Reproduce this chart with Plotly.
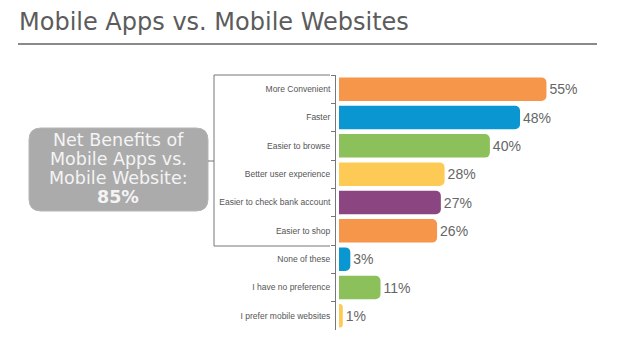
import plotly.graph_objects as go

categories = ["More Convenient", "Faster", "Easier to browse", "Better user experience",
              "Easier to check bank account", "Easier to shop", "None of these",
              "I have no preference", "I prefer mobile websites"]
values = [55, 48, 40, 28, 27, 26, 3, 11, 1]
colors = ["#F5964A", "#0A96D0", "#8BC05A", "#FDCB55", "#8B4580",
          "#F5964A", "#0A96D0", "#8BC05A", "#FDCB55"]
title_text = "Mobile Apps vs. Mobile Websites"
box_lines = ["Net Benefits of", "Mobile Apps vs.", "Mobile Website:", "<b>85%</b>"]

# page body has an 8px margin; figure is placed at (8, 8) on screen
OFF = 8
W, H = 619 - OFF, 358 - OFF
PLOT_L, PLOT_R, PLOT_T, PLOT_B = 336, 600, 75, 330   # screen coordinates
L, T = PLOT_L - OFF, PLOT_T - OFF
R, B = 619 - PLOT_R, 358 - PLOT_B
PW, PH = PLOT_R - PLOT_L, PLOT_B - PLOT_T

def px(x):
    return (x - PLOT_L) / PW

def py(y):
    return (PLOT_B - y) / PH

fig = go.Figure(go.Bar(
    x=values, y=categories, orientation="h",
    marker=dict(color=colors, cornerradius=5, line=dict(width=0)),
    text=[f"{v}%" for v in values], textposition="outside",
    textfont=dict(size=14, color="#666666", family="Liberation Sans"),
    cliponaxis=False,
))

shapes = []
# title underline
shapes.append(dict(type="line", xref="paper", yref="paper",
                   x0=px(18), x1=px(597), y0=py(44), y1=py(44),
                   line=dict(color="#8a8a8a", width=2)))
# bracket
bx, btop, bbot, bright = 214, 75, 246, 330
shapes.append(dict(type="path", xref="paper", yref="paper",
                   path=f"M {px(bright)} {py(btop)} L {px(bx)} {py(btop)} L {px(bx)} {py(bbot)} L {px(bright)} {py(bbot)}",
                   line=dict(color="#777777", width=1)))
# connector
shapes.append(dict(type="line", xref="paper", yref="paper",
                   x0=px(208), x1=px(bx), y0=py(161), y1=py(161),
                   line=dict(color="#777777", width=1)))
# rounded grey box
x0, x1, y0, y1, r = 29, 208, 128, 211, 12
rx, ry = r / PW, r / PH
X0, X1, Y0, Y1 = px(x0), px(x1), py(y0), py(y1)
path = (f"M {X0+rx} {Y0} L {X1-rx} {Y0} Q {X1} {Y0} {X1} {Y0-ry} "
        f"L {X1} {Y1+ry} Q {X1} {Y1} {X1-rx} {Y1} "
        f"L {X0+rx} {Y1} Q {X0} {Y1} {X0} {Y1+ry} "
        f"L {X0} {Y0-ry} Q {X0} {Y0} {X0+rx} {Y0} Z")
shapes.append(dict(type="path", xref="paper", yref="paper", path=path,
                   fillcolor="#ababab", line=dict(color="#b5b5b5", width=1), layer="below"))

annotations = [
    dict(text=title_text, xref="paper", yref="paper", x=px(17), y=py(22),
         xanchor="left", yanchor="middle", showarrow=False,
         font=dict(size=24, color="#5c5c5c", family="DejaVu Sans")),
]
line_y = [140, 159, 178, 197]
for txt, yy in zip(box_lines, line_y):
    annotations.append(dict(text=txt, xref="paper", yref="paper",
                            x=px(118), y=py(yy), xanchor="center", yanchor="middle",
                            showarrow=False,
                            font=dict(size=17.5, color="#f4f4f4", family="DejaVu Sans")))

fig.update_layout(
    width=W, height=H,
    margin=dict(l=L, r=R, t=T, b=B),
    paper_bgcolor="white", plot_bgcolor="white",
    showlegend=False, bargap=0.17,
    shapes=shapes, annotations=annotations,
    xaxis=dict(range=[-0.8, 69.2], visible=False, fixedrange=True),
    yaxis=dict(autorange="reversed", showline=True, linecolor="#777777", linewidth=1,
               ticks="outside", tickson="boundaries", ticklen=4, tickcolor="#777777",
               ticklabelstandoff=3,
               tickfont=dict(size=8.5, color="#555555", family="Liberation Sans"),
               showgrid=False, fixedrange=True),
    font=dict(family="Liberation Sans"),
)

fig.write_html("out.html")
